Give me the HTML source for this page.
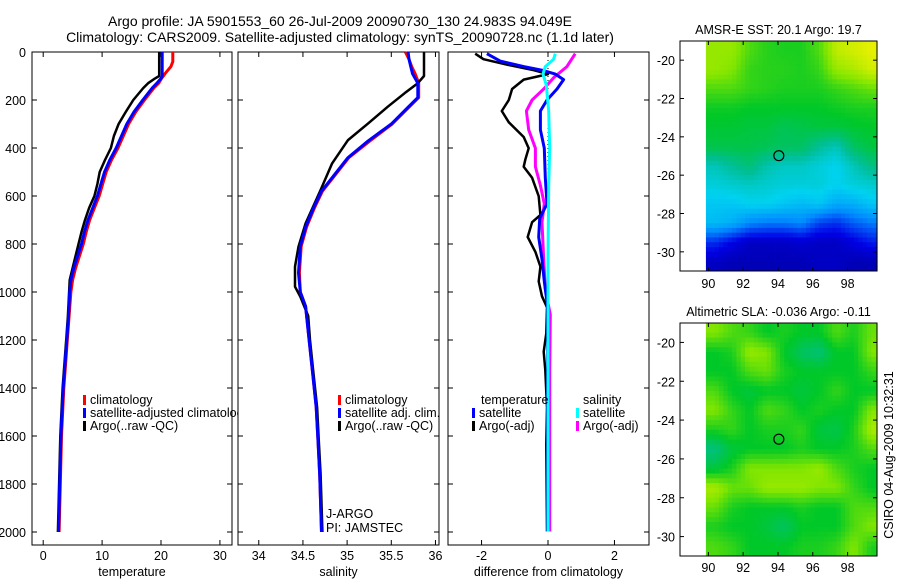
<!DOCTYPE html>
<html><head><meta charset="utf-8"><style>
body{margin:0;background:#fff;}
svg text{font-family:"Liberation Sans",sans-serif;fill:#000;}
</style></head><body>
<svg id="fig" width="900" height="580" viewBox="0 0 900 580" xmlns="http://www.w3.org/2000/svg">
<defs><clipPath id="p1clip"><rect x="0" y="0" width="238" height="580"/></clipPath></defs>
<rect width="900" height="580" fill="#fff"/>
<text x="340" y="26" font-size="14" text-anchor="middle">Argo profile: JA 5901553_60 26-Jul-2009 20090730_130 24.983S 94.049E</text>
<text x="340" y="42" font-size="14" text-anchor="middle">Climatology: CARS2009. Satellite-adjusted climatology: synTS_20090728.nc (1.1d later)</text>
<g id="layer"></g>
</svg>
<script>
// ---- temperature panel data ----
const tempDepth = [0,40,60,90,100,110,130,150,200,250,300,350,400,450,500,550,600,650,700,750,800,900,950,1000,1100,1200,1300,1400,1600,1800,2000];
const tempSat   = [20.2,20.2,20.2,20.2,20.2,20.0,19.3,18.5,16.9,15.4,14.2,13.3,12.4,11.3,10.4,9.8,9.2,8.4,7.6,7.0,6.5,5.2,4.7,4.5,4.3,4.0,3.7,3.4,3.0,2.8,2.6];
const tempClim  = [22.0,22.0,21.7,20.7,20.4,20.1,19.6,18.8,17.2,15.7,14.5,13.6,12.7,11.6,10.7,10.1,9.5,8.7,7.9,7.3,6.8,5.5,5.0,4.7,4.4,4.1,3.8,3.5,3.1,2.9,2.7];
const tempArgo  = [19.7,19.7,19.7,19.7,19.7,19.0,17.8,17.0,15.3,14.0,12.8,12.0,11.5,10.5,9.6,9.2,8.7,7.8,7.1,6.5,6.0,5.0,4.5,4.4,4.2,3.9,3.6,3.3,2.9,2.7,2.5];
// ---- salinity panel data ----
const salDepth = [0,30,60,90,130,190,230,300,370,440,510,580,650,730,810,920,1000,1060,1200,1340,1480,1620,1760,2000];
const salSat   = [35.69,35.70,35.72,35.74,35.80,35.80,35.69,35.50,35.24,35.01,34.86,34.71,34.62,34.53,34.47,34.45,34.47,34.53,34.57,34.61,34.65,34.67,34.69,34.71];
const salClim  = [35.66,35.70,35.73,35.77,35.81,35.81,35.70,35.51,35.26,35.02,34.87,34.72,34.63,34.54,34.48,34.46,34.47,34.53,34.57,34.61,34.65,34.67,34.69,34.71];
const salArgoDepth = [0,100,130,172,228,297,367,464,575,714,811,894,978,1019,1100,1200,1340,1480,1620,1760,2000];
const salArgo   = [35.87,35.87,35.80,35.65,35.46,35.24,35.01,34.83,34.70,34.53,34.45,34.41,34.41,34.47,34.56,34.58,34.62,34.66,34.68,34.70,34.72];
// ---- difference panel data ----
const dTArgoDepth = [7,30,53,76,92,115,154,200,246,293,354,401,447,478,524,601,679,709,771,833,894,956,1018,1064,1172,1249,1326,1481,1635,1998];
const dTArgo = [-2.19,-1.94,-1.23,-0.43,0,-0.73,-1.08,-1.18,-1.39,-1.18,-0.73,-0.58,-0.68,-0.73,-0.48,-0.28,-0.23,-0.48,-0.61,-0.38,-0.23,-0.28,-0.18,-0.03,-0.05,-0.13,-0.08,-0.03,-0.05,-0.03];
const dTSatDepth = [7,38,61,76,92,115,154,200,246,324,401,524,632,694,771,864,956,1064,1998];
const dTSat = [-1.84,-1.44,-0.73,-0.18,0.22,0.47,0.27,-0.03,-0.23,-0.23,-0.11,-0.08,-0.03,-0.25,-0.28,-0.18,-0.11,-0.01,-0.01];
const dSArgoDepth = [7,61,107,154,200,246,324,401,478,556,632,709,864,987,1095,1326,1635,1998];
const dSArgo = [0.82,0.57,0.17,-0.13,-0.48,-0.65,-0.58,-0.38,-0.38,-0.23,-0.11,-0.18,-0.13,-0.08,0.07,0.05,0.05,0.05];
const dSSatDepth = [7,30,61,92,138,246,401,556,864,1326,1998];
const dSSat = [0.22,0.17,-0.08,-0.15,-0.05,0.02,0.05,0.02,0,0,0];
// ---- tick labels ----
const depthTicks = [0,200,400,600,800,1000,1200,1400,1600,1800,2000];
const tempTicks = [0,10,20,30];
const salTicks = [34,34.5,35,35.5,36];
const salTickLabels = ["34","34.5","35","35.5","36"];
const diffTicks = [-2,0,2];
const lonTicks = [90,92,94,96,98];
const latTicks = [-20,-22,-24,-26,-28,-30];
// ---- map data (rows from -19 southwards, 1 degree cells, cols from 89.86E) ----
const sstGrid = [
[0.72,0.72,0.66,0.63,0.62,0.62,0.66,0.76,0.78,0.80],
[0.72,0.70,0.64,0.63,0.63,0.62,0.64,0.72,0.74,0.78],
[0.66,0.66,0.64,0.63,0.62,0.62,0.62,0.64,0.66,0.68],
[0.61,0.61,0.60,0.60,0.60,0.60,0.60,0.61,0.62,0.62],
[0.59,0.59,0.58,0.58,0.56,0.57,0.58,0.58,0.59,0.60],
[0.57,0.57,0.57,0.56,0.55,0.55,0.50,0.47,0.55,0.58],
[0.47,0.50,0.53,0.48,0.46,0.46,0.44,0.42,0.47,0.52],
[0.44,0.45,0.46,0.45,0.44,0.44,0.44,0.42,0.44,0.45],
[0.40,0.40,0.42,0.42,0.40,0.38,0.40,0.35,0.36,0.40],
[0.38,0.36,0.30,0.28,0.28,0.30,0.22,0.20,0.25,0.28],
[0.20,0.15,0.10,0.10,0.10,0.12,0.10,0.10,0.14,0.18],
[0.10,0.08,0.08,0.08,0.08,0.08,0.10,0.10,0.08,0.08]];
const slaGrid = [
[0.70,0.66,0.64,0.60,0.62,0.60,0.60,0.66,0.62,0.68],
[0.60,0.62,0.72,0.70,0.60,0.55,0.53,0.60,0.60,0.70],
[0.60,0.60,0.66,0.68,0.62,0.60,0.60,0.60,0.60,0.64],
[0.66,0.60,0.58,0.60,0.60,0.58,0.60,0.64,0.60,0.60],
[0.70,0.64,0.60,0.66,0.64,0.60,0.62,0.60,0.60,0.70],
[0.62,0.64,0.60,0.62,0.62,0.64,0.58,0.57,0.62,0.74],
[0.52,0.58,0.60,0.60,0.60,0.62,0.60,0.60,0.62,0.66],
[0.58,0.62,0.70,0.70,0.70,0.70,0.72,0.66,0.62,0.60],
[0.74,0.68,0.68,0.72,0.72,0.72,0.70,0.70,0.64,0.60],
[0.68,0.62,0.60,0.60,0.60,0.62,0.60,0.60,0.66,0.66],
[0.62,0.60,0.60,0.58,0.55,0.60,0.60,0.60,0.66,0.70],
[0.66,0.64,0.60,0.60,0.60,0.62,0.62,0.64,0.70,0.62]];
const argoLon = 94.049, argoLat = -24.983;

const NS = "http://www.w3.org/2000/svg";
const layer = document.getElementById('layer');
function mk(tag, attrs, parent){ const e=document.createElementNS(NS,tag); for(const k in attrs) e.setAttribute(k,attrs[k]); (parent||layer).appendChild(e); return e; }

const Y0 = 52, Y1 = 545;
const yDepth = d => 52 + d*0.24;

function panel(name, x0, x1, xmin, xmax, ticks, labels, xtitle, showDepthLabels){
  const g = mk('g',{});
  
  
  const sx = v => x0 + (v - xmin)/(xmax - xmin)*(x1 - x0);
  const box = mk('rect',{x:x0,y:Y0,width:x1-x0,height:Y1-Y0,fill:'none',stroke:'#000','stroke-width':1},g);
  
  
  depthTicks.forEach(d=>{
    const y=yDepth(d);
    mk('line',{x1:x0,x2:x0+5,y1:y,y2:y,stroke:'#000'},g);
    mk('line',{x1:x1,x2:x1-5,y1:y,y2:y,stroke:'#000'},g);
    if(showDepthLabels){
      const t=mk('text',{x:x0-6,y:y+5,'font-size':12.5,'text-anchor':'end'},g);
      t.textContent=d;
      
      
    }
  });
  ticks.forEach((v,i)=>{
    const x=sx(v);
    mk('line',{x1:x,x2:x,y1:Y0,y2:Y0+5,stroke:'#000'},g);
    mk('line',{x1:x,x2:x,y1:Y1,y2:Y1-5,stroke:'#000'},g);
    const t=mk('text',{x:x,y:Y1+15,'font-size':12.5,'text-anchor':'middle'},g);
    t.textContent=labels[i];
    
    
  });
  const tt=mk('text',{x:(x0+x1)/2,y:Y1+31,'font-size':12.5,'text-anchor':'middle'},g);
  tt.textContent=xtitle;
  
  
  return {g, sx};
}
function series(p, depths, vals, color, w, nm){
  const pts = depths.map((d,i)=> p.sx(vals[i]).toFixed(1)+','+yDepth(d).toFixed(1)).join(' ');
  const l = mk('polyline',{points:pts,fill:'none',stroke:color,'stroke-width':w,'stroke-linejoin':'round'},p.g);
  
  
}
function legend(g, x, y, color, label, nm){
  const m=mk('rect',{x:x,y:y-9,width:3,height:10,fill:color},g);
  
  
  const t=mk('text',{x:x+7,y:y,'font-size':12.5},g);
  t.textContent=label;
  
  
}

// Temperature panel
const pT = panel('temperature-panel', 32, 232, -1.9, 32.05, tempTicks, tempTicks.map(String), 'temperature', true);
series(pT, tempDepth, tempClim, '#ff0000', 3, 'temperature-climatology-line');
series(pT, tempArgo.map((_,i)=>tempDepth[i]), tempArgo, '#000000', 2.5, 'temperature-argo-line');
series(pT, tempDepth, tempSat, '#0000ff', 3, 'temperature-satellite-line');
const lg1 = mk('g',{'clip-path':'url(#p1clip)'},pT.g);
legend(lg1, 83, 404, '#ff0000', 'climatology', 'legend-climatology');
legend(lg1, 83, 417, '#0000ff', 'satellite-adjusted climatology', 'legend-satellite-adjusted');
legend(lg1, 83, 430, '#000000', 'Argo(..raw -QC)', 'legend-argo');

// Salinity panel
const pS = panel('salinity-panel', 238, 439, 33.765, 36.04, salTicks, salTickLabels, 'salinity', false);
series(pS, salDepth, salClim, '#ff0000', 3, 'salinity-climatology-line');
series(pS, salArgoDepth, salArgo, '#000000', 2.5, 'salinity-argo-line');
series(pS, salDepth, salSat, '#0000ff', 3, 'salinity-satellite-line');
legend(pS.g, 338, 404, '#ff0000', 'climatology', 'legend-sal-climatology');
legend(pS.g, 338, 417, '#0000ff', 'satellite adj. clim.', 'legend-sal-satellite');
legend(pS.g, 338, 430, '#000000', 'Argo(..raw -QC)', 'legend-sal-argo');
const ja=mk('text',{x:326,y:518,'font-size':12.5},pS.g); ja.textContent='J-ARGO';
 
const pi=mk('text',{x:326,y:532,'font-size':12.5},pS.g); pi.textContent='PI: JAMSTEC';
 

// Difference panel
const pD = panel('difference-panel', 448, 649, -3.01, 3.04, diffTicks, diffTicks.map(String), 'difference from climatology', false);
const zl = mk('line',{x1:pD.sx(0),x2:pD.sx(0),y1:yDepth(0),y2:yDepth(2000),stroke:'#000','stroke-width':1,'stroke-dasharray':'1,3'},pD.g);
 
series(pD, dTArgoDepth, dTArgo, '#000000', 2.5, 'diff-temperature-argo-line');
series(pD, dSArgoDepth, dSArgo, '#ff00ff', 3, 'diff-salinity-argo-line');
series(pD, dTSatDepth, dTSat, '#0000ff', 3, 'diff-temperature-satellite-line');
series(pD, dSSatDepth, dSSat, '#00ffff', 3, 'diff-salinity-satellite-line');
const th=mk('text',{x:481,y:404,'font-size':12.5},pD.g); th.textContent='temperature';
 
const sh=mk('text',{x:583,y:404,'font-size':12.5},pD.g); sh.textContent='salinity';
 
legend(pD.g, 472, 417, '#0000ff', 'satellite', 'legend-diff-temp-satellite');
legend(pD.g, 472, 430, '#000000', 'Argo(-adj)', 'legend-diff-temp-argo');
legend(pD.g, 576, 417, '#00ffff', 'satellite', 'legend-diff-sal-satellite');
legend(pD.g, 576, 430, '#ff00ff', 'Argo(-adj)', 'legend-diff-sal-argo');

// colormap
const cstops = [[0,0,0,128],[0.15,0,0,230],[0.3,0,140,255],[0.42,0,210,240],[0.5,0,190,150],[0.6,0,200,40],[0.7,130,230,0],[0.8,230,240,0],[0.9,255,200,0],[1,255,120,0]];
function cmap(v){
  for(let i=1;i<cstops.length;i++){ if(v<=cstops[i][0]){ const a=cstops[i-1],b=cstops[i]; const t=(v-a[0])/(b[0]-a[0]);
    return 'rgb('+[1,2,3].map(k=>Math.round(a[k]+t*(b[k]-a[k]))).join(',')+')'; } }
  return 'rgb(255,120,0)';
}
// bilinear sample of grid at fractional cell-centre coordinates
function sample(grid, fr, fc){
  const R=grid.length, C=grid[0].length;
  fr=Math.max(0,Math.min(R-1,fr)); fc=Math.max(0,Math.min(C-1,fc));
  const r0=Math.floor(fr), c0=Math.floor(fc), r1=Math.min(R-1,r0+1), c1=Math.min(C-1,c0+1);
  const tr=fr-r0, tc=fc-c0;
  const a=grid[r0][c0]*(1-tc)+grid[r0][c1]*tc, b=grid[r1][c0]*(1-tc)+grid[r1][c1]*tc;
  return a*(1-tr)+b*tr;
}
function map(name, title, top, bottom, grid, lblY){
  const g = mk('g',{});
  
  
  const x0=680, x1=877, lon0=88.37, lon1=99.69, lat0=-19.0, lat1=-31.0;
  const sx = lo => x0 + (lo-lon0)/(lon1-lon0)*(x1-x0);
  const sy = la => top + (la-lat0)/(lat1-lat0)*(bottom-top);
  const step=0.25;
  for(let la=-19; la>-31+1e-6; la-=step){
    for(let lo=89.86; lo<99.7-1e-6; lo+=step){
      const fr=(-19-(la-step/2))-0.5, fc=(lo+step/2-89.86)-0.5;
      const v=sample(grid, fr, fc);
      const xa=sx(lo), xb=sx(Math.min(lo+step,99.7)), ya=sy(la), yb=sy(la-step);
      const cell=mk('rect',{x:xa,y:ya,width:xb-xa+0.4,height:yb-ya+0.4,fill:cmap(v)},g);
      
      
    }
  }
  mk('rect',{x:x0,y:top,width:x1-x0,height:bottom-top,fill:'none',stroke:'#000'},g);
  lonTicks.forEach(lo=>{ const x=sx(lo);
    mk('line',{x1:x,x2:x,y1:bottom,y2:bottom-4,stroke:'#000'},g);
    mk('line',{x1:x,x2:x,y1:top,y2:top+4,stroke:'#000'},g);
    const t=mk('text',{x:x,y:lblY,'font-size':12.5,'text-anchor':'middle'},g); t.textContent=lo;
     
  });
  latTicks.forEach(la=>{ const y=sy(la);
    mk('line',{x1:x0,x2:x0+4,y1:y,y2:y,stroke:'#000'},g);
    mk('line',{x1:x1,x2:x1-4,y1:y,y2:y,stroke:'#000'},g);
    const t=mk('text',{x:x0-5,y:y+5,'font-size':12.5,'text-anchor':'end'},g); t.textContent=la;
     
  });
  const c=mk('circle',{cx:sx(argoLon),cy:sy(argoLat),r:5,fill:'none',stroke:'#000','stroke-width':1.2},g);
   
  const t=mk('text',{x:(x0+x1)/2,y:top-7,'font-size':12.5,'text-anchor':'middle'},g); t.textContent=title;
   
}
map('sst-map','AMSR-E SST: 20.1 Argo: 19.7',41,271,sstGrid,288);
map('sla-map','Altimetric SLA: -0.036 Argo: -0.11',323,556,slaGrid,572);
const cs=mk('text',{x:0,y:0,'font-size':12.5,'text-anchor':'middle',transform:'translate(893,455) rotate(-90)'});
cs.textContent='CSIRO 04-Aug-2009 10:32:31';
 
</script>
</body></html>
